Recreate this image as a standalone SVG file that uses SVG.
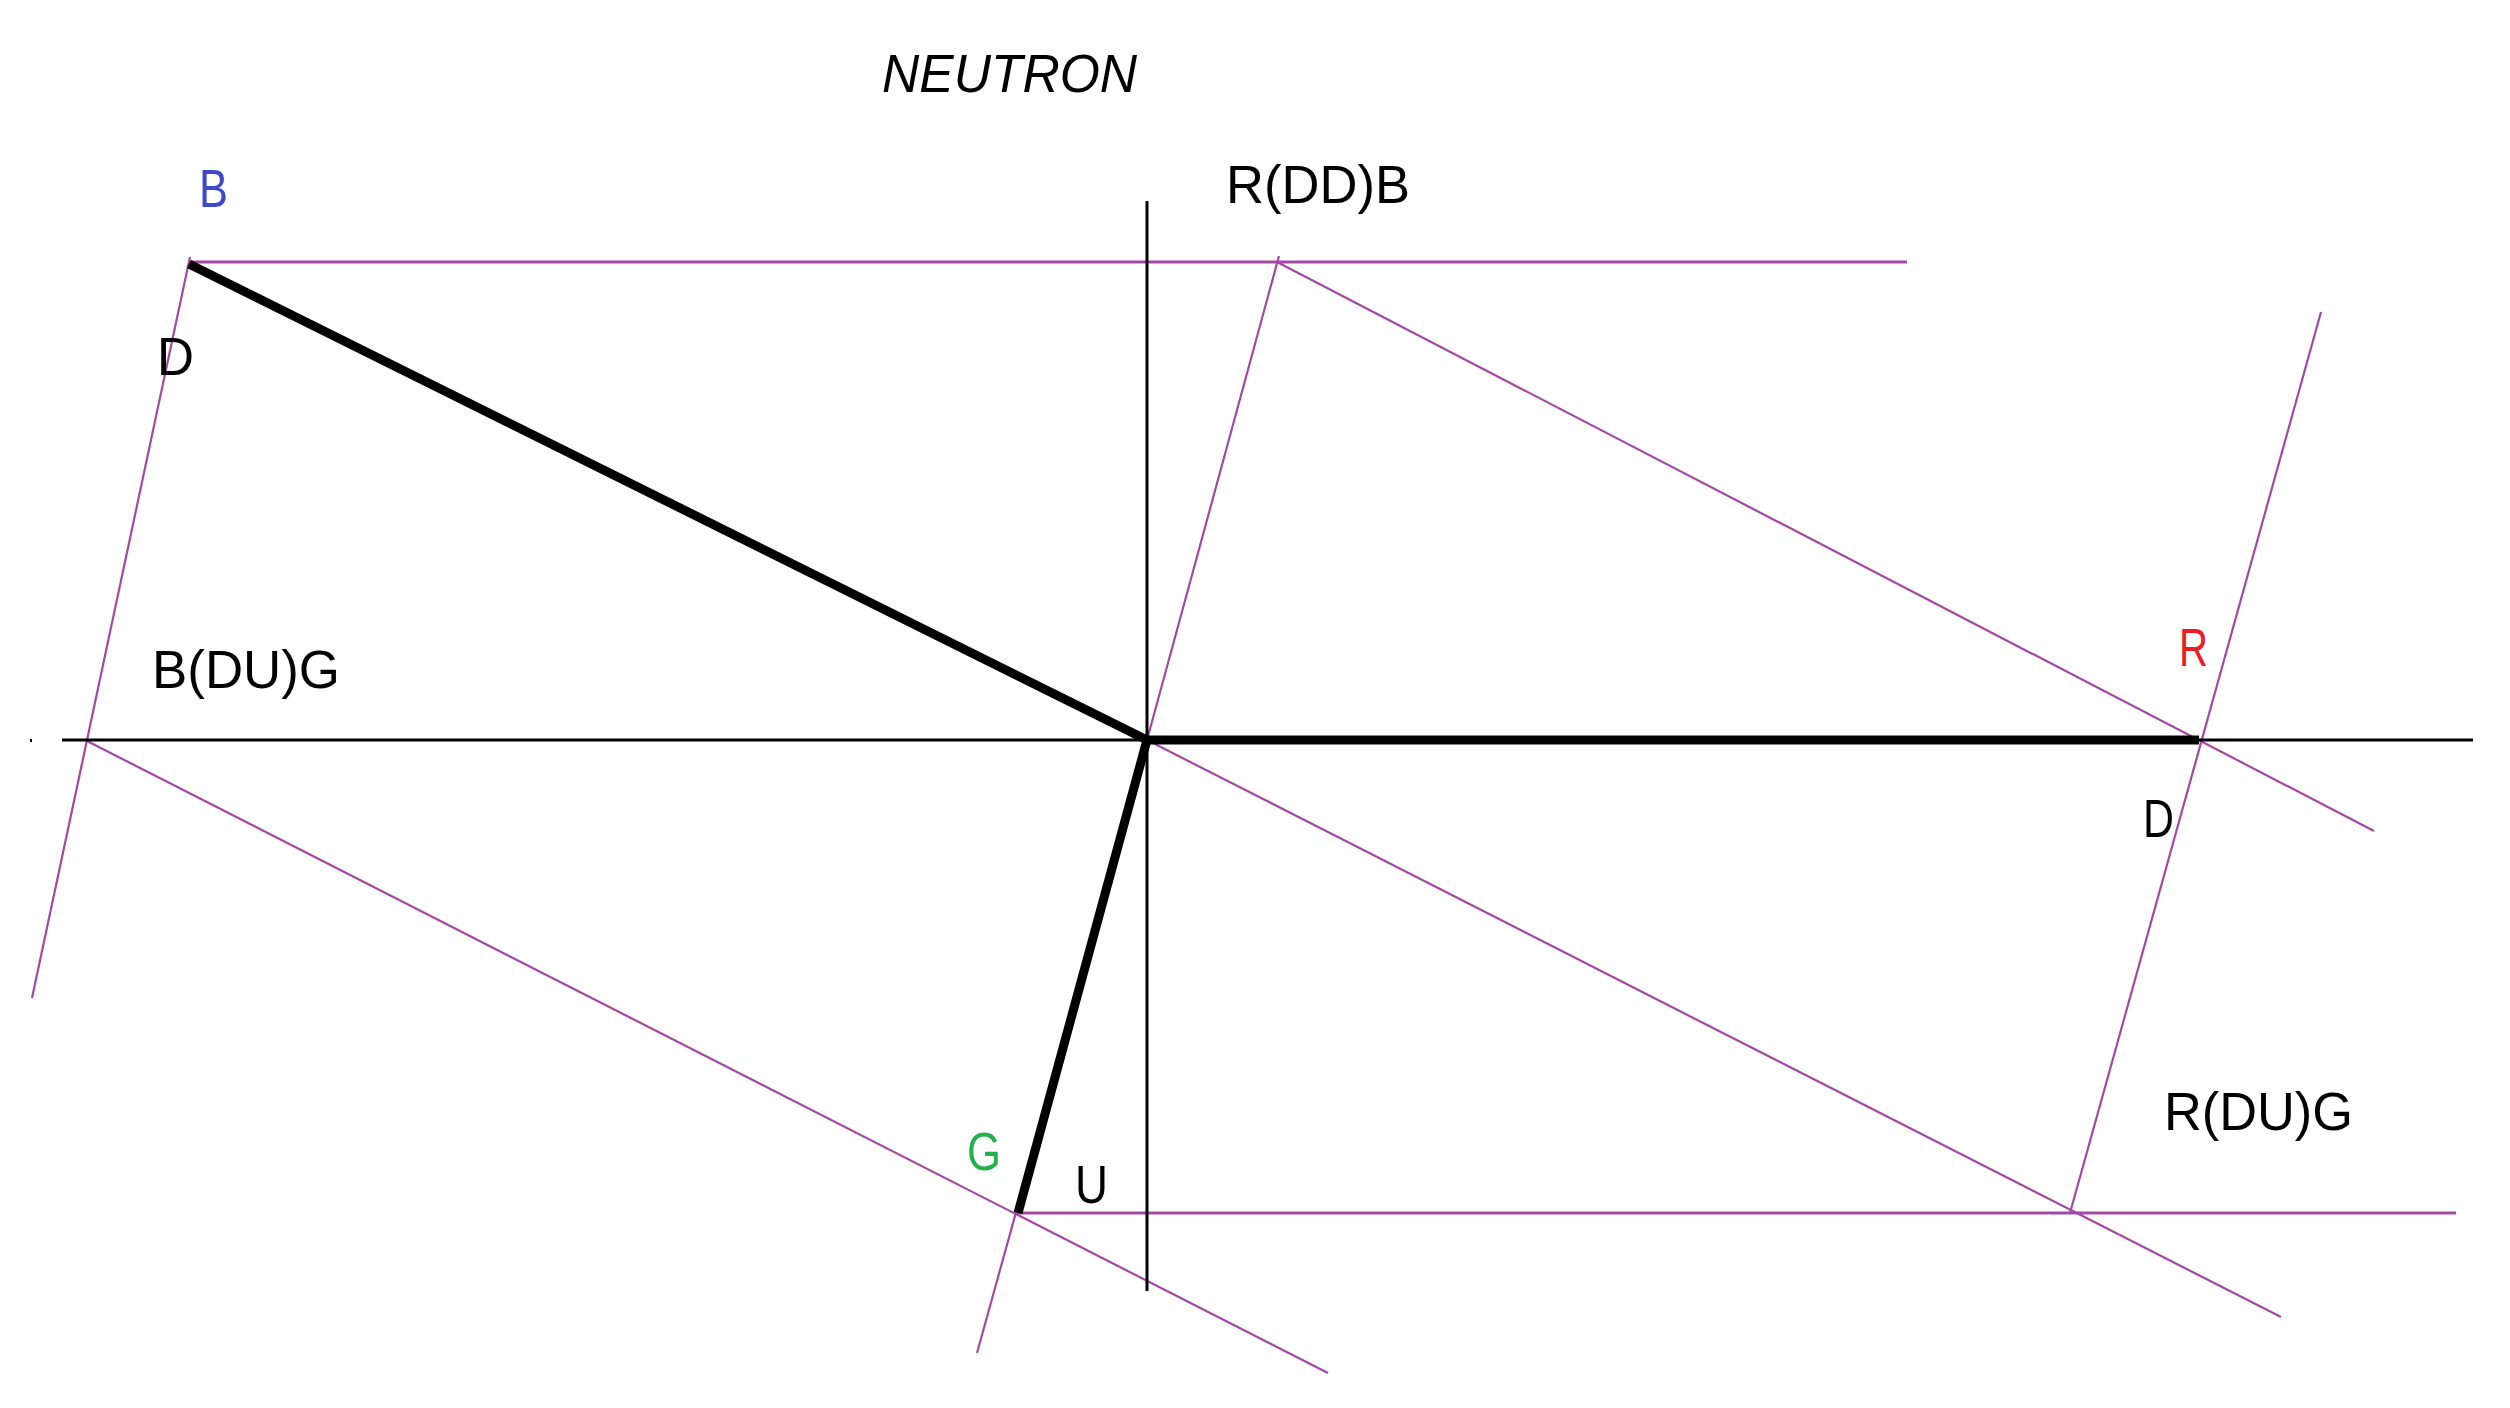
<svg xmlns="http://www.w3.org/2000/svg" width="2510" height="1408" viewBox="0 0 2510 1408">
  <style>
    .p { stroke: #a349a4; stroke-width: 2.2; fill: none; }
    .pt { stroke: #a349a4; stroke-width: 3.2; fill: none; }
    .ax { stroke: #000; stroke-width: 3; fill: none; }
    .th { stroke: #000; stroke-width: 9; fill: none; stroke-linecap: butt; }
    text { font-family: "Liberation Sans", Arial, sans-serif; font-size: 54px; fill: #000; }
  </style>
  <rect width="2510" height="1408" fill="#fff"/>
  <g id="connectors">
    <!-- purple construction lines -->
    <line class="pt" x1="189" y1="262" x2="1907" y2="262"/>
    <line class="pt" x1="1016" y1="1213" x2="2456" y2="1213"/>
    <line class="p" x1="190" y1="257" x2="32" y2="998"/>
    <line class="p" x1="87" y1="741" x2="1328" y2="1373"/>
    <line class="p" x1="1147" y1="740" x2="1279" y2="256"/>
    <line class="p" x1="1277" y1="262" x2="2374" y2="831"/>
    <line class="p" x1="2321" y1="312" x2="2070" y2="1213"/>
    <line class="p" x1="1147" y1="740" x2="2281" y2="1317"/>
    <line class="p" x1="1147" y1="740" x2="977" y2="1353"/>
    <!-- axes -->
    <line class="ax" x1="62" y1="740" x2="2473" y2="740"/>
    <line class="ax" x1="1147" y1="201" x2="1147" y2="1291"/>
    <rect x="30" y="739" width="2" height="3" fill="#000"/>
    <!-- thick vectors -->
    <line class="th" x1="189" y1="264" x2="1147" y2="740"/>
    <line class="th" x1="1147" y1="740" x2="2199" y2="740"/>
    <line class="th" x1="1147" y1="740" x2="1018" y2="1213"/>
  </g>
  <g id="title"><text x="882" y="92" font-style="italic" textLength="255" lengthAdjust="spacingAndGlyphs">NEUTRON</text></g>
  <g id="label-B"><text x="199" y="207" fill="#3f48cc" style="fill:#3f48cc" textLength="29" lengthAdjust="spacingAndGlyphs">B</text></g>
  <g id="label-D-left"><text x="157" y="375" textLength="37" lengthAdjust="spacingAndGlyphs">D</text></g>
  <g id="label-RDDB"><text x="1226" y="203" textLength="184" lengthAdjust="spacingAndGlyphs">R(DD)B</text></g>
  <g id="label-BDUG"><text x="152" y="688" textLength="188" lengthAdjust="spacingAndGlyphs">B(DU)G</text></g>
  <g id="label-R"><text x="2179" y="666" style="fill:#ed1c24" textLength="29" lengthAdjust="spacingAndGlyphs">R</text></g>
  <g id="label-D-right"><text x="2143" y="837" textLength="31" lengthAdjust="spacingAndGlyphs">D</text></g>
  <g id="label-G"><text x="967" y="1170" style="fill:#22b14c" textLength="34" lengthAdjust="spacingAndGlyphs">G</text></g>
  <g id="label-U"><text x="1075" y="1203" textLength="33" lengthAdjust="spacingAndGlyphs">U</text></g>
  <g id="label-RDUG"><text x="2164" y="1130" textLength="189" lengthAdjust="spacingAndGlyphs">R(DU)G</text></g>
</svg>
